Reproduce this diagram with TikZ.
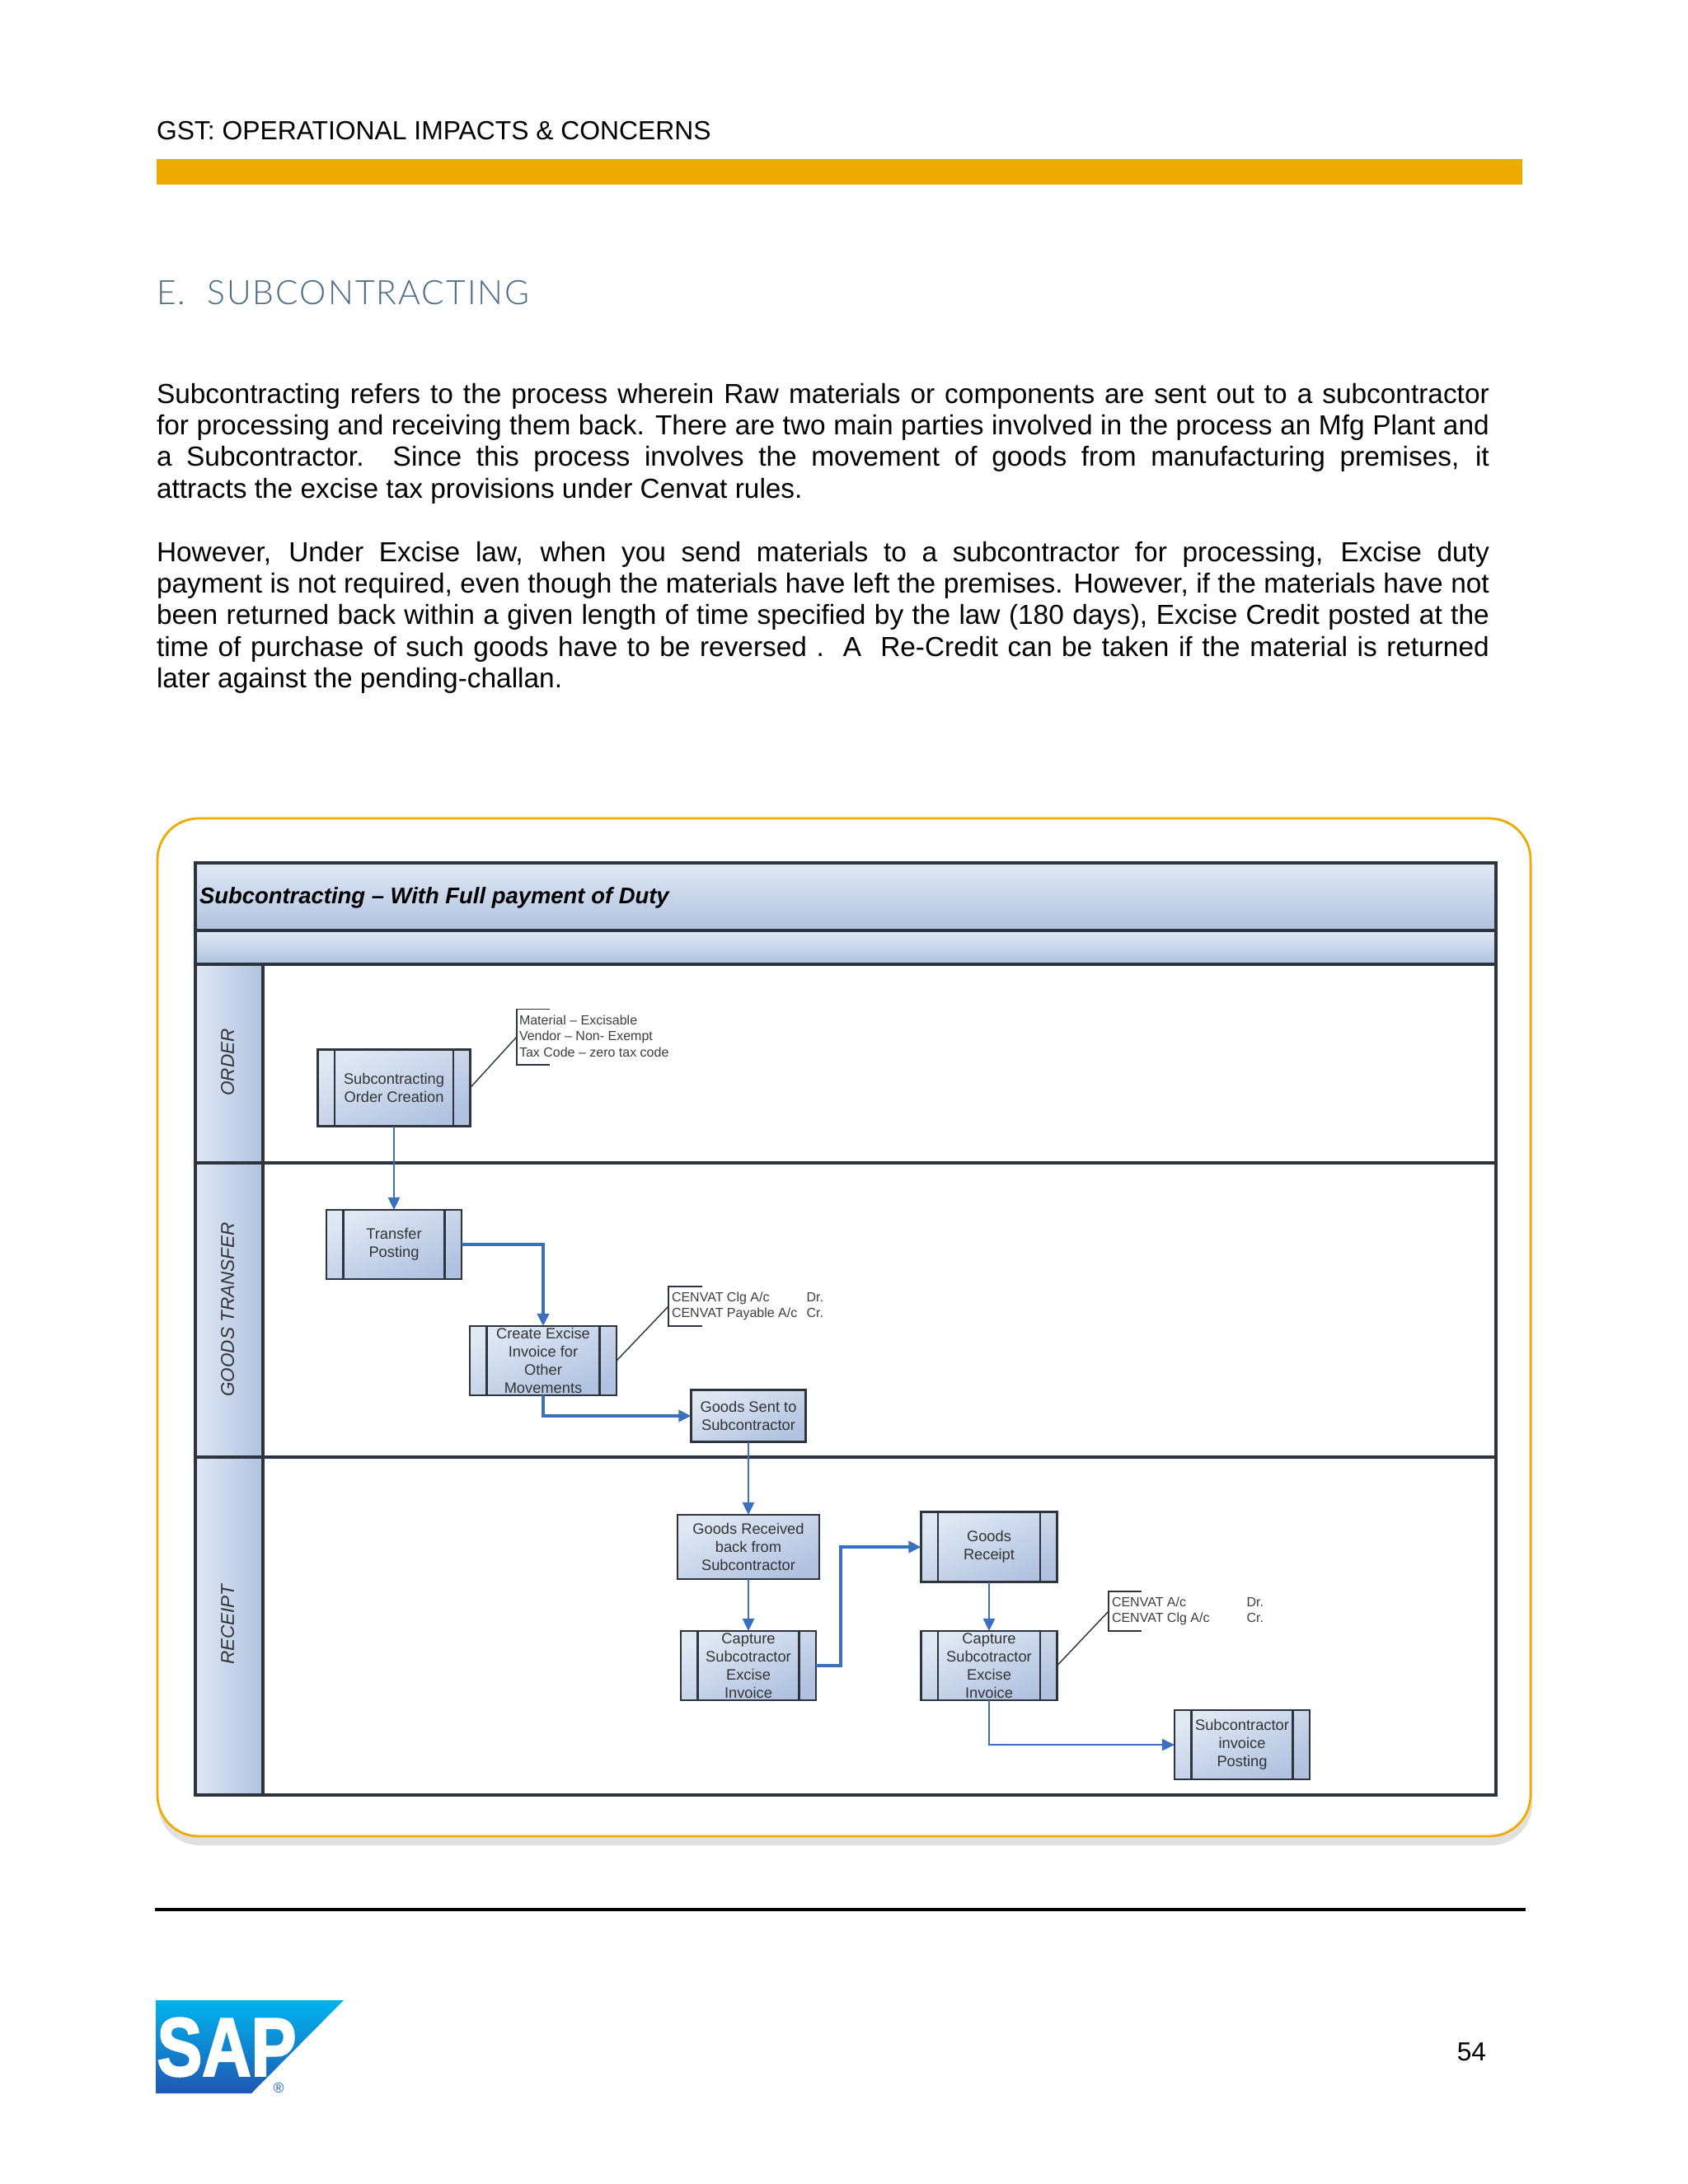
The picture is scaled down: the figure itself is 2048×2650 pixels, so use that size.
\documentclass[tikz,border=0pt]{standalone}
\usepackage{fontspec}
\setmainfont{Liberation Sans}
\newfontfamily\headfont[LetterSpace=5]{Lato Light}
\newfontfamily\logofont[BoldFeatures={FakeBold=2.5}]{Liberation Sans}
\usepackage{xcolor}
\definecolor{barGold}{RGB}{240,171,0}
\definecolor{headSlate}{RGB}{74,108,132}
\definecolor{boxLight}{RGB}{224,232,244}
\definecolor{boxDark}{RGB}{176,194,224}
\definecolor{lineDark}{RGB}{45,52,62}
\definecolor{flowBlue}{RGB}{58,112,190}
\definecolor{noteGrey}{RGB}{62,62,62}
\definecolor{sapTop}{RGB}{0,180,238}
\definecolor{sapBottom}{RGB}{31,88,178}
\usepackage{tikz}
\usetikzlibrary{arrows.meta,positioning}

\begin{document}
\begin{tikzpicture}[x=0.01cm, y=-0.01cm,
  every node/.style={inner sep=0pt, outer sep=0pt},
  procbox/.style={draw=lineDark, line width=0.7pt, top color=boxLight, bottom color=boxDark, shading angle=25, align=center, text=black!80, font=\fontsize{5.2pt}{6.2pt}\selectfont},
  notetext/.style={align=left, anchor=west, text=noteGrey, font=\fontsize{4.55pt}{5.5pt}\selectfont},
  lanelabel/.style={rotate=90, text=black!80, font=\fontsize{6.4pt}{7pt}\selectfont\itshape},
  flow/.style={draw=flowBlue, line width=0.7pt, -{Triangle[length=0.15cm,width=0.14cm]}},
  flowthick/.style={flow, line width=1pt},
  bodytext/.style={anchor=north west, text width=16.16cm, align=justify, font=\fontsize{9.5pt}{10.9pt}\selectfont}]
  \useasboundingbox (0,0) rectangle (2048,2650);

  % page head
  \node[anchor=base west, font=\fontsize{9.05pt}{10pt}\selectfont] (pagehead) at (190,169) {GST: OPERATIONAL IMPACTS \& CONCERNS};
  \fill[barGold] (190,193) rectangle (1847,224);
  \node[anchor=base west, text=headSlate, font=\fontsize{11.6pt}{12pt}\headfont] (sechead) at (190,369) {E.\ \ SUBCONTRACTING};
  \node[bodytext] (para1) at (190,465) {Subcontracting refers to the process wherein Raw materials or components are sent out to a subcontractor\linebreak for processing and receiving them back. There are two main parties involved in the process an Mfg Plant and\linebreak a Subcontractor.\ \ Since this process involves the movement of goods from manufacturing premises, it\linebreak attracts the excise tax provisions under Cenvat rules.};
  \node[bodytext] (para2) at (190,657) {However, Under Excise law, when you send materials to a subcontractor for processing, Excise duty\linebreak payment is not required, even though the materials have left the premises. However, if the materials have not\linebreak been returned back within a given length of time specified by the law (180 days), Excise Credit posted at the\linebreak time of purchase of such goods have to be reversed .\ \ A\ \ Re-Credit can be taken if the material is returned\linebreak later against the pending-challan.};

  % frame and swimlanes
  \fill[black!12, rounded corners=0.5cm] (192,1003) rectangle (1859,2239);
  \draw[barGold, line width=0.8pt, fill=white, rounded corners=0.5cm] (191,993) rectangle (1857,2228);
  \draw[lineDark, line width=1pt, top color=boxLight, bottom color=boxDark] (237,1047) rectangle (1815,1129);
  \draw[lineDark, line width=1pt, top color=boxLight, bottom color=boxDark] (237,1129) rectangle (1815,1170);
  \draw[lineDark, line width=1pt, left color=boxLight, right color=boxDark] (237,1170) rectangle (319,2178);
  \draw[lineDark, line width=1pt] (319,1170) rectangle (1815,2178);
  \draw[lineDark, line width=1pt] (237,1411) -- (1815,1411);
  \draw[lineDark, line width=1pt] (237,1768) -- (1815,1768);
  \node[anchor=west, font=\fontsize{7.8pt}{9pt}\selectfont\bfseries\itshape] (title) at (242,1089) {Subcontracting -- With Full payment of Duty};
  \node[lanelabel] (laneorder) at (276,1289) {ORDER};
  \node[lanelabel] (lanegoods) at (276,1589) {GOODS TRANSFER};
  \node[lanelabel] (lanereceipt) at (276,1971) {RECEIPT};

  % process boxes
  \node[procbox, minimum width=1.845cm, minimum height=0.93cm] (b1) at (478,1320) {Subcontracting\\Order Creation};
  \node[procbox, minimum width=1.64cm, minimum height=0.84cm] (b2) at (478,1510) {Transfer\\Posting};
  \node[procbox, minimum width=1.78cm, minimum height=0.84cm] (b3) at (659,1651) {Create Excise\\Invoice for\\Other\\Movements};
  \node[procbox, minimum width=1.39cm, minimum height=0.63cm] (b4) at (908,1718) {Goods Sent to\\Subcontractor};
  \node[procbox, minimum width=1.72cm, minimum height=0.78cm] (b5) at (908,1877) {Goods Received\\back from\\Subcontractor};
  \node[procbox, minimum width=1.64cm, minimum height=0.84cm] (b6) at (908,2021) {Capture\\Subcotractor\\Excise\\Invoice};
  \node[procbox, minimum width=1.65cm, minimum height=0.85cm] (b7) at (1200,1877) {Goods\\Receipt};
  \node[procbox, minimum width=1.65cm, minimum height=0.84cm] (b8) at (1200,2021) {Capture\\Subcotractor\\Excise\\Invoice};
  \node[procbox, minimum width=1.64cm, minimum height=0.84cm] (b9) at (1507,2117) {Subcontractor\\invoice\\Posting};
  \foreach \b in {b1,b2,b3,b6,b7,b8,b9} {
    \draw[lineDark, line width=0.7pt] ([xshift=0.205cm]\b.north west) -- ([xshift=0.205cm]\b.south west);
    \draw[lineDark, line width=0.7pt] ([xshift=-0.205cm]\b.north east) -- ([xshift=-0.205cm]\b.south east);
  }

  % notes
  \node[notetext] (n1) at (630,1257) {Material -- Excisable\\Vendor -- Non- Exempt\\Tax Code -- zero tax code};
  \node[notetext] (n2) at (815,1585) {\makebox[46.5pt][l]{CENVAT Clg A/c}Dr.\\\makebox[46.5pt][l]{CENVAT Payable A/c}Cr.};
  \node[notetext] (n3) at (1349,1955) {\makebox[46.5pt][l]{CENVAT A/c}Dr.\\\makebox[46.5pt][l]{CENVAT Clg A/c}Cr.};
  \coordinate (n1a) at (627,1258);
  \coordinate (n2a) at (811,1585);
  \coordinate (n3a) at (1345,1955);
  \draw[lineDark, line width=0.5pt] (667,1224.5) -| (627,1292) -- (667,1292);
  \draw[lineDark, line width=0.5pt] (852,1561) -| (811,1609) -- (852,1609);
  \draw[lineDark, line width=0.5pt] (1385,1931) -| (1345,1979) -- (1385,1979);
  \draw[lineDark, line width=0.4pt] (b1.east) -- (n1a);
  \draw[lineDark, line width=0.4pt] (b3.east) -- (n2a);
  \draw[lineDark, line width=0.4pt] (b8.east) -- (n3a);

  % connectors
  \draw[flow] (b1.south) -- (b2.north);
  \draw[flowthick] (b2.east) -| (b3.north);
  \draw[flowthick] (b3.south) |- (b4.west);
  \draw[flow] (b4.south) -- (b5.north);
  \draw[flow] (b5.south) -- (b6.north);
  \draw[flowthick] (b6.east) -- ++(30,0) |- (b7.west);
  \draw[flow] (b7.south) -- (b8.north);
  \draw[flow] (b8.south) |- (b9.west);

  % page foot
  \draw[black, line width=1.15pt] (188,2317) -- (1851,2317);
  \shade[top color=sapTop, bottom color=sapBottom] (189,2427) -- (417,2427) -- (305,2540) -- (189,2540) -- cycle;
  \node[text=white, xscale=0.82, font=\fontsize{28.5pt}{30pt}\logofont\bfseries] (saplogo) at (275,2484) {SAP};
  \node[text=sapBottom, font=\fontsize{5pt}{6pt}\selectfont] (sapreg) at (338,2533) {®};
  \node[anchor=base east, font=\fontsize{9pt}{10pt}\selectfont] (pagenum) at (1803,2500) {54};
\end{tikzpicture}
\end{document}
